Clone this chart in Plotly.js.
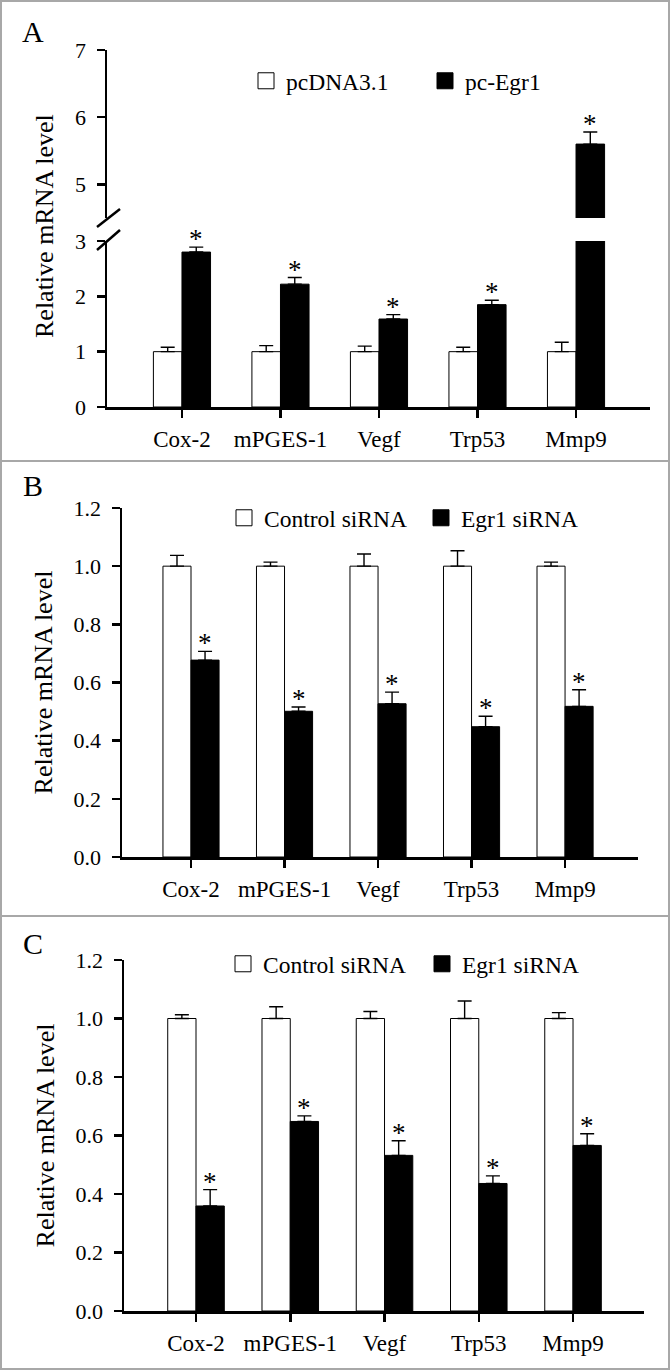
<!DOCTYPE html>
<html><head><meta charset="utf-8">
<script src="https://cdn.plot.ly/plotly-3.0.1.min.js"></script>
<style>
body{margin:0;background:#fff;}
#wrap{position:relative;width:671px;height:1371px;overflow:hidden;}
.panel{position:absolute;left:0;width:671px;}
.frame{position:absolute;border:2px solid #a8a8a8;box-sizing:border-box;pointer-events:none;}
</style></head><body>
<div id="wrap">
<div id="pA" class="panel" style="top:0;height:461px"></div>
<div id="pB" class="panel" style="top:461px;height:455px"></div>
<div id="pC" class="panel" style="top:916px;height:453px"></div>
<div class="frame" style="left:0;top:0;width:670px;height:462px"></div>
<div class="frame" style="left:0;top:460px;width:670px;height:457px"></div>
<div class="frame" style="left:0;top:915px;width:670px;height:455px"></div>
</div>
<script>
// ---------- data ----------
const categories = ['Cox-2', 'mPGES-1', 'Vegf', 'Trp53', 'Mmp9'];

// Panel A: overexpression
const aNames = ['pcDNA3.1', 'pc-Egr1'];
const aCtrl = [1.00, 1.00, 1.00, 1.00, 1.00];
const aCtrlErr = [0.08, 0.11, 0.10, 0.08, 0.17];
const aEgr = [2.80, 2.22, 1.59, 1.85, 5.60];
const aEgrErr = [0.09, 0.12, 0.08, 0.08, 0.18];
const aSig = ['*', '*', '*', '*', '*'];
const aLowerTicks = [0, 1, 2, 3];
const aUpperTicks = [5, 6, 7];

// Panel B: knockdown
const bNames = ['Control siRNA', 'Egr1 siRNA'];
const bCtrl = [1.00, 1.00, 1.00, 1.00, 1.00];
const bCtrlErr = [0.037, 0.014, 0.042, 0.053, 0.014];
const bSi = [0.677, 0.501, 0.527, 0.448, 0.518];
const bSiErr = [0.030, 0.015, 0.040, 0.036, 0.057];
const bSig = ['*', '*', '*', '*', '*'];

// Panel C: knockdown
const cNames = ['Control siRNA', 'Egr1 siRNA'];
const cCtrl = [1.00, 1.00, 1.00, 1.00, 1.00];
const cCtrlErr = [0.013, 0.040, 0.024, 0.060, 0.020];
const cSi = [0.359, 0.648, 0.532, 0.436, 0.566];
const cSiErr = [0.056, 0.019, 0.050, 0.026, 0.040];
const cSig = ['*', '*', '*', '*', '*'];

const siTicks = [0, 0.2, 0.4, 0.6, 0.8, 1.0, 1.2];

// ---------- style ----------
const FONT = 'Liberation Serif, Times New Roman, serif';
const zeros = n => new Array(n).fill(0);

function errY(arr) {
  return {type: 'data', symmetric: false, array: arr, arrayminus: zeros(arr.length),
          color: 'black', thickness: 1.4, width: 7, visible: true};
}
function barTrace(name, y, err, fill, offset, width, yaxis) {
  return {type: 'bar', name: name, x: categories, y: y, offset: offset, width: width,
          xaxis: 'x', yaxis: yaxis, showlegend: false, cliponaxis: true,
          marker: {color: fill, line: {color: 'black', width: 1}},
          error_y: errY(err), hoverinfo: 'x+y'};
}
// legend key (square swatch) for each series
function keyTrace(name, fill) {
  return {type: 'scatter', mode: 'markers', name: name, x: [null], y: [null],
          xaxis: 'x', yaxis: 'y', showlegend: true, hoverinfo: 'skip',
          marker: {symbol: 'square', size: 16, color: fill, line: {color: 'black', width: 1}}};
}
function axisX(range) {
  return {type: 'category', range: range, showline: true, linecolor: 'black', linewidth: 2.5,
          ticks: 'outside', ticklen: 8, tickwidth: 2.5, tickcolor: 'black',
          tickfont: {family: FONT, size: 23, color: 'black'}, ticklabelstandoff: 2,
          showgrid: false, zeroline: false, fixedrange: true};
}
function axisY(extra) {
  return Object.assign({showline: true, linecolor: 'black', linewidth: 2.5,
          ticks: 'outside', ticklen: 8, tickwidth: 2.5, tickcolor: 'black',
          tickfont: {family: FONT, size: 22, color: 'black'}, ticklabelstandoff: 6,
          showgrid: false, zeroline: false, fixedrange: true, anchor: 'x'}, extra);
}
function legendAt(x, y, ew) {
  return {orientation: 'h', x: x, y: y, xanchor: 'left', yanchor: 'middle',
          bgcolor: 'rgba(0,0,0,0)', font: {family: FONT, size: 23.5, color: 'black'},
          entrywidth: ew, entrywidthmode: 'pixels', traceorder: 'normal', itemsizing: 'trace'};
}
function starAnn(i, y, yref, w, txt) {
  return {x: i + w / 2, y: y, xref: 'x', yref: yref, text: txt, showarrow: false,
          yanchor: 'bottom', yshift: -9, font: {family: FONT, size: 27, color: 'black'}};
}
function letterAnn(txt, x, y) {
  return {text: txt, x: x, y: y, xref: 'paper', yref: 'paper', showarrow: false,
          xanchor: 'center', yanchor: 'middle', font: {family: FONT, size: 30, color: 'black'}};
}
const config = {displayModeBar: false, staticPlot: true};

// ---------- Panel A ----------
(function () {
  const W = 671, H = 461, L = 107, R = 21, T = 50, B = 54;
  const pw = W - L - R, ph = H - T - B, bottom = H - B;
  const px = v => (v - L) / pw, py = v => (bottom - v) / ph;
  const w = 0.29;
  const lowerMax = 3, upperMin = 4.5, upperMax = 7;
  const lowerEgrErr = aEgrErr.map((e, i) => (aEgr[i] + e <= lowerMax ? e : 0));
  const upperEgr = aEgr.map(v => (v > upperMin ? v : null));
  const traces = [
    barTrace(aNames[0], aCtrl, aCtrlErr, 'white', -w, w, 'y'),
    barTrace(aNames[1], aEgr, lowerEgrErr, 'black', 0, w, 'y'),
    barTrace(aNames[1], upperEgr, aEgrErr, 'black', 0, w, 'y2'),
    keyTrace(aNames[0], 'white'),
    keyTrace(aNames[1], 'black')
  ];
  const anns = aSig.map((s, i) => {
    const top = aEgr[i] + aEgrErr[i];
    return starAnn(i, top, top > lowerMax ? 'y2' : 'y', w, s);
  });
  anns.push(letterAnn('A', px(33), py(32)));
  anns.push({text: 'Relative mRNA level', textangle: -90, x: px(44), y: py(226),
             xref: 'paper', yref: 'paper', showarrow: false, xanchor: 'center', yanchor: 'middle',
             font: {family: FONT, size: 26, color: 'black'}});
  const brk = (x0, y0, x1, y1) => ({type: 'line', xref: 'paper', yref: 'paper',
             x0: px(x0), y0: py(y0), x1: px(x1), y1: py(y1), layer: 'above',
             line: {color: 'black', width: 2.5}});
  const layout = {
    width: W, height: H, margin: {l: L, r: R, t: T, b: B},
    paper_bgcolor: 'rgba(0,0,0,0)', plot_bgcolor: 'rgba(0,0,0,0)',
    barmode: 'overlay', showlegend: true, font: {family: FONT, color: 'black'},
    xaxis: axisX([-0.761, 4.751]),
    yaxis: axisY({domain: [0, py(241)], range: [0, lowerMax], tickvals: aLowerTicks}),
    yaxis2: axisY({domain: [py(218), 1], range: [upperMin, upperMax], tickvals: aUpperTicks}),
    legend: legendAt(px(246), py(81), 134),
    annotations: anns,
    shapes: [brk(97, 227, 120, 209), brk(97, 250, 120, 230)]
  };
  Plotly.newPlot('pA', traces, layout, config);
})();

// ---------- Panels B and C ----------
function siPanel(div, H, L, R, T, B, xr, names, ctrl, ctrlErr, si, siErr, sig, letter, letterY, legX, legY, ew) {
  const W = 671;
  const pw = W - L - R, ph = H - T - B, bottom = H - B;
  const px = v => (v - L) / pw, py = v => (bottom - v) / ph;
  const w = 0.30;
  const traces = [
    barTrace(names[0], ctrl, ctrlErr, 'white', -w, w, 'y'),
    barTrace(names[1], si, siErr, 'black', 0, w, 'y'),
    keyTrace(names[0], 'white'),
    keyTrace(names[1], 'black')
  ];
  const anns = sig.map((s, i) => starAnn(i, si[i] + siErr[i], 'y', w, s));
  anns.push(letterAnn(letter, px(33), py(letterY)));
  const layout = {
    width: W, height: H, margin: {l: L, r: R, t: T, b: B},
    paper_bgcolor: 'rgba(0,0,0,0)', plot_bgcolor: 'rgba(0,0,0,0)',
    barmode: 'overlay', showlegend: true, font: {family: FONT, color: 'black'},
    xaxis: axisX(xr),
    yaxis: axisY({range: [0, 1.2], tickvals: siTicks, tickformat: '.1f',
                  title: {text: 'Relative mRNA level', standoff: 14,
                          font: {family: FONT, size: 26, color: 'black'}}}),
    legend: legendAt(px(legX), py(legY), ew),
    annotations: anns
  };
  Plotly.newPlot(div, traces, layout, config);
}
siPanel('pB', 455, 122, 33, 47, 59, [-0.738, 4.78], bNames, bCtrl, bCtrlErr, bSi, bSiErr, bSig, 'B', 25, 224, 57, 152);
siPanel('pC', 453, 124, 27, 44, 58, [-0.764, 4.753], cNames, cCtrl, cCtrlErr, cSi, cSiErr, cSig, 'C', 27, 223, 48, 154);
</script>
</body></html>
